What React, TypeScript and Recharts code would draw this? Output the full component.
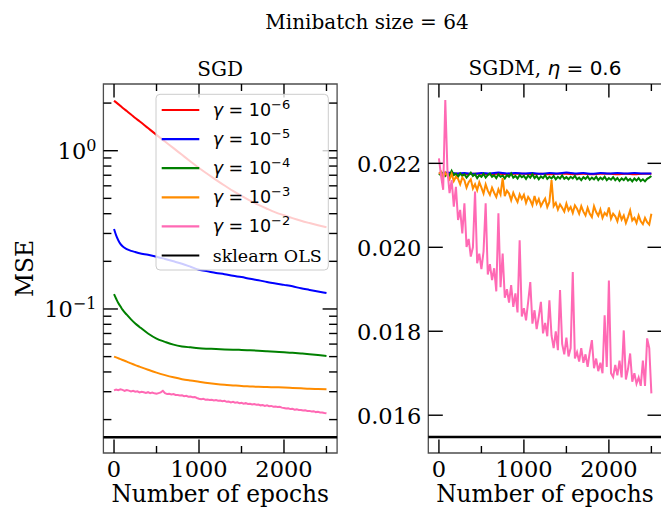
import { Line, LineChart, ReferenceArea, ReferenceLine, XAxis, YAxis } from "recharts";

const SERIF = "'DejaVu Serif', serif";
const SANS = "'DejaVu Sans', sans-serif";

// learning rates gamma = 10^k, one colour each
const gammaExponents = [-6, -5, -4, -3, -2];
const seriesColors = ["#ff0000", "#0000ff", "#008000", "#ff8c00", "#ff69b4"];

// MSE of the closed-form sklearn fit
const olsMse = 0.01548;

const epochTicks = [0, 500, 1000, 1500, 2000, 2500];
const sgdTicks = [0.02, 0.03, 0.04, 0.05, 0.06, 0.07, 0.08, 0.09, 0.1, 0.2, 0.3, 0.4, 0.5, 0.6, 0.7, 0.8, 0.9, 1, 2];
const sgdmTicks = [0.016, 0.018, 0.02, 0.022];

const epochsSmooth = [
  0, 25, 50, 75, 100, 150, 200, 250, 300, 400, 500, 600, 700, 800, 900, 1000,
  1100, 1200, 1300, 1400, 1500, 1600, 1700, 1800, 1900, 2000, 2100, 2200, 2300, 2400, 2500,
];
const epochsHundred = [
  0, 100, 200, 300, 400, 500, 600, 700, 800, 900, 1000, 1100, 1200, 1300, 1400,
  1500, 1600, 1700, 1800, 1900, 2000, 2100, 2200, 2300, 2400, 2500,
];
const epochsFine = [
  0, 25, 50, 75, 100, 125, 150, 175, 200, 225,
  250, 275, 300, 325, 350, 375, 400, 425, 450, 475,
  500, 525, 550, 575, 600, 625, 650, 675, 700, 725,
  750, 775, 800, 825, 850, 875, 900, 925, 950, 975,
  1000, 1025, 1050, 1075, 1100, 1125, 1150, 1175, 1200, 1225,
  1250, 1275, 1300, 1325, 1350, 1375, 1400, 1425, 1450, 1475,
  1500, 1525, 1550, 1575, 1600, 1625, 1650, 1675, 1700, 1725,
  1750, 1775, 1800, 1825, 1850, 1875, 1900, 1925, 1950, 1975,
  2000, 2025, 2050, 2075, 2100, 2125, 2150, 2175, 2200, 2225,
  2250, 2275, 2300, 2325, 2350, 2375, 2400, 2425, 2450, 2475,
  2500,
];

// plain SGD, one run per learning rate
const sgdLr6 = [
  2.07, 2.02, 1.97, 1.92, 1.871, 1.78, 1.694, 1.61, 1.535, 1.39, 1.259, 1.143, 1.038, 0.942, 0.855, 0.778,
  0.713, 0.655, 0.603, 0.557, 0.518, 0.484, 0.455, 0.43, 0.408, 0.391, 0.375, 0.361, 0.349, 0.338, 0.328,
];
const sgdLr5 = [
  0.32, 0.292, 0.272, 0.258, 0.249, 0.239, 0.233, 0.229, 0.225, 0.22, 0.214, 0.207, 0.2, 0.193, 0.185, 0.177,
  0.173, 0.169, 0.166, 0.162, 0.159, 0.155, 0.152, 0.148, 0.145, 0.142, 0.139, 0.135, 0.132, 0.129, 0.126,
];
const sgdLr4 = [
  0.124, 0.116, 0.109, 0.104, 0.099, 0.092, 0.086, 0.081, 0.077, 0.07, 0.065, 0.062, 0.0595, 0.058, 0.0572, 0.0565,
  0.0561, 0.0558, 0.0555, 0.0553, 0.0551, 0.0548, 0.0545, 0.0541, 0.0537, 0.0533, 0.0528, 0.0523, 0.0518, 0.0512, 0.0505,
];
const sgdLr3 = [
  0.05, 0.0494, 0.0488, 0.0482, 0.0476, 0.0465, 0.0453, 0.0442, 0.0432, 0.0413, 0.0396, 0.0382, 0.037, 0.036, 0.0353, 0.0347,
  0.0341, 0.0336, 0.0332, 0.0329, 0.0326, 0.0324, 0.0322, 0.0321, 0.032, 0.0319, 0.0317, 0.0315, 0.0313, 0.0312, 0.0311,
];
const sgdLr2 = [
  0.0306, 0.031, 0.0307, 0.0311, 0.0308, 0.0304, 0.0307, 0.0305, 0.0301, 0.0304,
  0.03, 0.0302, 0.0297, 0.03, 0.0298, 0.0295, 0.0298, 0.0294, 0.0296, 0.0293,
  0.0291, 0.0294, 0.0297, 0.0304, 0.0294, 0.029, 0.0291, 0.0288, 0.029, 0.0286,
  0.0286, 0.0284, 0.0285, 0.0281, 0.0283, 0.0279, 0.028, 0.0277, 0.0278, 0.0274,
  0.0271, 0.0269, 0.0271, 0.0267, 0.0268, 0.0266, 0.0267, 0.0264, 0.0266, 0.0263,
  0.0264, 0.0261, 0.0263, 0.0259, 0.026, 0.0257, 0.0259, 0.0256, 0.0257, 0.0254,
  0.0255, 0.0252, 0.0254, 0.0251, 0.0252, 0.0249, 0.0251, 0.0248, 0.0249, 0.0246,
  0.0247, 0.0244, 0.0246, 0.0243, 0.0244, 0.0241, 0.0242, 0.024, 0.0241, 0.0238,
  0.0237, 0.0235, 0.0236, 0.0233, 0.0234, 0.0231, 0.0232, 0.023, 0.023, 0.0228,
  0.0229, 0.0227, 0.0227, 0.0225, 0.0226, 0.0223, 0.0224, 0.0222, 0.0222, 0.022,
  0.0219,
];

// SGD with momentum 0.6
const sgdmLr6 = [
  0.02175, 0.02174, 0.02175, 0.02174, 0.02175, 0.02175, 0.02174, 0.02175, 0.02174, 0.02175, 0.02175, 0.02174, 0.02175,
  0.02174, 0.02175, 0.02175, 0.02174, 0.02175, 0.02174, 0.02175, 0.02175, 0.02174, 0.02175, 0.02174, 0.02175, 0.02175,
];
const sgdmLr5 = [
  0.02175, 0.02178, 0.02176, 0.02177, 0.02175, 0.02177, 0.02176, 0.02178, 0.02176, 0.02177, 0.02176, 0.02177, 0.02175,
  0.02177, 0.02176, 0.02178, 0.02176, 0.02177, 0.02175, 0.02177, 0.02176, 0.02177, 0.02176, 0.02177, 0.02176, 0.02176,
];
const sgdmLr4 = [
  0.02175, 0.02172, 0.02178, 0.0217, 0.02176, 0.02171, 0.02182, 0.02172, 0.02175, 0.02168,
  0.02176, 0.0217, 0.02174, 0.02166, 0.02172, 0.02178, 0.0217, 0.02174, 0.02165, 0.02172,
  0.02168, 0.02175, 0.02166, 0.02172, 0.02176, 0.02168, 0.02172, 0.02165, 0.02174, 0.02168,
  0.02171, 0.02164, 0.02172, 0.02168, 0.02176, 0.02166, 0.0217, 0.02164, 0.02172, 0.02167,
  0.0217, 0.02163, 0.02171, 0.02166, 0.02174, 0.02165, 0.0217, 0.02162, 0.02169, 0.02165,
  0.02172, 0.02163, 0.02168, 0.02164, 0.0217, 0.02162, 0.02168, 0.02164, 0.02171, 0.02163,
  0.02167, 0.02162, 0.02168, 0.02164, 0.0217, 0.02162, 0.02166, 0.0216, 0.02167, 0.02163,
  0.02169, 0.02161, 0.02166, 0.02162, 0.02168, 0.0216, 0.02166, 0.02162, 0.02168, 0.0216,
  0.02165, 0.02161, 0.02167, 0.0216, 0.02165, 0.02158, 0.02164, 0.0216, 0.02166, 0.02159,
  0.02163, 0.02157, 0.02164, 0.02159, 0.02165, 0.02158, 0.02162, 0.02157, 0.02163, 0.02166,
  0.0217,
];
const sgdmLr3 = [
  0.02175, 0.0218, 0.02166, 0.02178, 0.0217, 0.02162, 0.02175, 0.02158, 0.02168, 0.02163,
  0.0215, 0.02166, 0.0216, 0.02142, 0.02155, 0.02162, 0.0214, 0.0215, 0.02136, 0.02155,
  0.02142, 0.02128, 0.0215, 0.02135, 0.02125, 0.02142, 0.0213, 0.0212, 0.02138, 0.02126,
  0.02165, 0.02122, 0.02135, 0.02128, 0.02112, 0.0213, 0.02118, 0.02108, 0.02126, 0.02115,
  0.02125, 0.02106, 0.0212, 0.02112, 0.021, 0.02122, 0.02104, 0.02115, 0.02098, 0.02108,
  0.02116, 0.02096, 0.02108, 0.0216, 0.02098, 0.02106, 0.0209, 0.02102, 0.02094, 0.02085,
  0.02104, 0.02088, 0.02096, 0.02082, 0.021, 0.02092, 0.0208, 0.02098, 0.02085, 0.02076,
  0.02094, 0.0208, 0.02072, 0.02098, 0.02084, 0.02075, 0.0209, 0.0207, 0.02082, 0.02076,
  0.02095, 0.02068, 0.0208, 0.02074, 0.02062, 0.02082, 0.02066, 0.02076, 0.02058, 0.02072,
  0.02088, 0.02064, 0.0207, 0.02058, 0.02076, 0.02062, 0.02055, 0.0207, 0.0206, 0.02054,
  0.0208,
];
const sgdmLr2 = [
  0.02212, 0.0217, 0.02137, 0.02351, 0.02184, 0.02129, 0.0216, 0.02097, 0.02144, 0.02065,
  0.02089, 0.02033, 0.02105, 0.02001, 0.0202, 0.01978, 0.02, 0.02133, 0.01962, 0.01985,
  0.01948, 0.0199, 0.02105, 0.01935, 0.0196, 0.01922, 0.0195, 0.01895, 0.02081, 0.01905,
  0.01985, 0.0188, 0.019, 0.01868, 0.0191, 0.01858, 0.0189, 0.01845, 0.02017, 0.01835,
  0.01855, 0.01826, 0.0187, 0.01917, 0.01818, 0.0185, 0.01805, 0.01835, 0.0187, 0.01795,
  0.0182, 0.01788, 0.01874, 0.0179, 0.0176, 0.018, 0.01755, 0.01898, 0.0177, 0.01745,
  0.01785, 0.0174, 0.0176, 0.01941, 0.01735, 0.0175, 0.01728, 0.0176, 0.01725, 0.01745,
  0.01715, 0.0175, 0.01779, 0.01712, 0.01735, 0.01705, 0.01725, 0.017, 0.01838, 0.01715,
  0.01921, 0.017, 0.01691, 0.0172, 0.01695, 0.0173, 0.0169, 0.01802, 0.01685, 0.0171,
  0.01747, 0.0168, 0.017, 0.01675, 0.0169, 0.0167, 0.0173, 0.0167, 0.01783, 0.0176,
  0.01652,
];

type Row = { epoch: number; mse: number };
const toRows = (xs: number[], ys: number[]): Row[] => xs.map((epoch, i) => ({ epoch, mse: ys[i] }));

const sgdRuns = [
  toRows(epochsSmooth, sgdLr6),
  toRows(epochsSmooth, sgdLr5),
  toRows(epochsSmooth, sgdLr4),
  toRows(epochsSmooth, sgdLr3),
  toRows(epochsFine, sgdLr2),
];
const sgdmRuns = [
  toRows(epochsHundred, sgdmLr6),
  toRows(epochsHundred, sgdmLr5),
  toRows(epochsFine, sgdmLr4),
  toRows(epochsFine, sgdmLr3),
  toRows(epochsFine, sgdmLr2),
];

const EPOCH_DOMAIN: [number, number] = [-125, 2625];
const SGD_DOMAIN: [number, number] = [0.0123, 2.64];
const SGDM_DOMAIN: [number, number] = [0.0151, 0.02389];

const MAJOR = 13.5;
const MINOR = 7;
const TICK_FONT = 22.5;
const LABEL_FONT = 23.3;
const SPINE = "#4d4d4d";

type Frame = { left: number; right: number; top: number; bottom: number };

const sgdFrame: Frame = { left: 103.4, right: 337.1, top: 84, bottom: 453 };
const sgdmFrame: Frame = { left: 88.3, right: 322, top: 84, bottom: 453 };

// ticks point inwards and repeat on the opposite spine
const epochTick = (f: Frame) => (props: any) => {
  const { x, payload } = props;
  const major = payload.value % 1000 === 0;
  const len = major ? MAJOR : MINOR;
  return (
    <g>
      <line x1={x} x2={x} y1={f.bottom} y2={f.bottom - len} stroke="#000" strokeWidth={1.4} />
      <line x1={x} x2={x} y1={f.top} y2={f.top + len} stroke="#000" strokeWidth={1.4} />
      {major && (
        <text x={x} y={f.bottom + 24} textAnchor="middle" fontFamily={SERIF} fontSize={TICK_FONT} fill="#000">
          {payload.value}
        </text>
      )}
    </g>
  );
};

const logTick = (f: Frame) => (props: any) => {
  const { y, payload } = props;
  const exp = Math.log10(payload.value);
  const major = Math.abs(exp - Math.round(exp)) < 1e-9;
  const len = major ? MAJOR + 1 : MINOR + 1;
  const k = Math.round(exp);
  return (
    <g>
      <line x1={f.left} x2={f.left + len} y1={y} y2={y} stroke="#000" strokeWidth={1.4} />
      <line x1={f.right} x2={f.right - len} y1={y} y2={y} stroke="#000" strokeWidth={1.4} />
      {major && (
        <text x={f.left - 7} y={y + 8.5} textAnchor="end" fontFamily={SERIF} fontSize={TICK_FONT} fill="#000">
          10
          <tspan dy={-8} fontSize={16}>
            {k < 0 ? `\u2212${-k}` : k}
          </tspan>
        </text>
      )}
    </g>
  );
};

const linTick = (f: Frame) => (props: any) => {
  const { y, payload } = props;
  return (
    <g>
      <line x1={f.left} x2={f.left + MAJOR + 1} y1={y} y2={y} stroke="#000" strokeWidth={1.4} />
      <line x1={f.right} x2={f.right - MAJOR - 1} y1={y} y2={y} stroke="#000" strokeWidth={1.4} />
      <text x={f.left - 7} y={y + 8.5} textAnchor="end" fontFamily={SERIF} fontSize={TICK_FONT} fill="#000">
        {payload.value.toFixed(3)}
      </text>
    </g>
  );
};

function Panel({
  runs,
  frame,
  width,
  yDomain,
  yTicks,
  log,
}: {
  runs: Row[][];
  frame: Frame;
  width: number;
  yDomain: [number, number];
  yTicks: number[];
  log: boolean;
}) {
  const height = 508;
  return (
    <LineChart
      width={width}
      height={height}
      margin={{ top: frame.top, right: width - frame.right, bottom: height - frame.bottom - 30, left: frame.left - 60 }}
    >
      <XAxis
        type="number"
        dataKey="epoch"
        domain={EPOCH_DOMAIN}
        allowDataOverflow
        ticks={epochTicks}
        interval={0}
        height={30}
        axisLine={false}
        tickLine={false}
        tickSize={0}
        tick={epochTick(frame)}
      />
      <YAxis
        type="number"
        scale={log ? "log" : "linear"}
        domain={yDomain}
        allowDataOverflow
        ticks={yTicks}
        interval={0}
        width={60}
        axisLine={false}
        tickLine={false}
        tickSize={0}
        tick={log ? logTick(frame) : linTick(frame)}
      />
      <ReferenceArea
        x1={EPOCH_DOMAIN[0]}
        x2={EPOCH_DOMAIN[1]}
        y1={yDomain[0]}
        y2={yDomain[1]}
        ifOverflow="visible"
        fill="none"
        stroke={SPINE}
        strokeWidth={1.3}
      />
      {runs.map((rows, i) => (
        <Line
          key={i}
          data={rows}
          dataKey="mse"
          type={rows.length > 40 ? "linear" : "monotone"}
          stroke={seriesColors[i]}
          strokeWidth={2}
          dot={false}
          isAnimationActive={false}
        />
      ))}
      <ReferenceLine y={olsMse} stroke="#000" strokeWidth={2.5} />
    </LineChart>
  );
}

function Legend() {
  const x = 156;
  const y = 94.3;
  const step = 29.1;
  const entries = [...gammaExponents.map((k, i) => ({ k, color: seriesColors[i] })), null];
  return (
    <g>
      <rect x={x} y={y} width={172.3} height={175.7} rx={4} fill="#fff" fillOpacity={0.8} stroke="#cccccc" strokeWidth={1} />
      {entries.map((item, i) => {
        const cy = y + 15.7 + i * step;
        return (
          <g key={i}>
            <line x1={x + 5.7} x2={x + 43.3} y1={cy} y2={cy} stroke={item ? item.color : "#000"} strokeWidth={2.2} />
            {item ? (
              <text x={x + 56.7} y={cy + 6} fontFamily={SANS} fontSize={17.5} fill="#000">
                <tspan fontStyle="italic">γ</tspan>
                <tspan> = 10</tspan>
                <tspan dy={-7} fontSize={13}>{`\u2212${-item.k}`}</tspan>
              </text>
            ) : (
              <text x={x + 56.7} y={cy + 6} fontFamily={SERIF} fontSize={17.5} fill="#000">
                sklearn OLS
              </text>
            )}
          </g>
        );
      })}
    </g>
  );
}

export default function App() {
  return (
    <div style={{ position: "fixed", left: 0, top: 0, width: 661, height: 508, overflow: "hidden", background: "#fff" }}>
      <div style={{ position: "absolute", left: 0, top: 0 }}>
        <Panel runs={sgdRuns} frame={sgdFrame} width={340} yDomain={SGD_DOMAIN} yTicks={sgdTicks} log />
      </div>
      <div style={{ position: "absolute", left: 340, top: 0 }}>
        <Panel runs={sgdmRuns} frame={sgdmFrame} width={330} yDomain={SGDM_DOMAIN} yTicks={sgdmTicks} log={false} />
      </div>
      <svg width={661} height={508} style={{ position: "absolute", left: 0, top: 0, pointerEvents: "none" }}>
        <text x={367} y={29} textAnchor="middle" fontFamily={SERIF} fontSize={20}>
          Minibatch size = 64
        </text>
        <text x={220.2} y={76} textAnchor="middle" fontFamily={SERIF} fontSize={20}>
          SGD
        </text>
        <text x={545} y={75} textAnchor="middle" fontFamily={SERIF} fontSize={20}>
          SGDM,{" "}
          <tspan fontFamily={SANS} fontStyle="italic">
            η
          </tspan>
          <tspan fontFamily={SANS}> = 0.6</tspan>
        </text>
        <text x={220.2} y={501.5} textAnchor="middle" fontFamily={SERIF} fontSize={LABEL_FONT}>
          Number of epochs
        </text>
        <text x={545} y={501.5} textAnchor="middle" fontFamily={SERIF} fontSize={LABEL_FONT}>
          Number of epochs
        </text>
        <text x={33} y={268.5} textAnchor="middle" fontFamily={SERIF} fontSize={LABEL_FONT} transform="rotate(-90 33 268.5)">
          MSE
        </text>
        <Legend />
      </svg>
    </div>
  );
}
